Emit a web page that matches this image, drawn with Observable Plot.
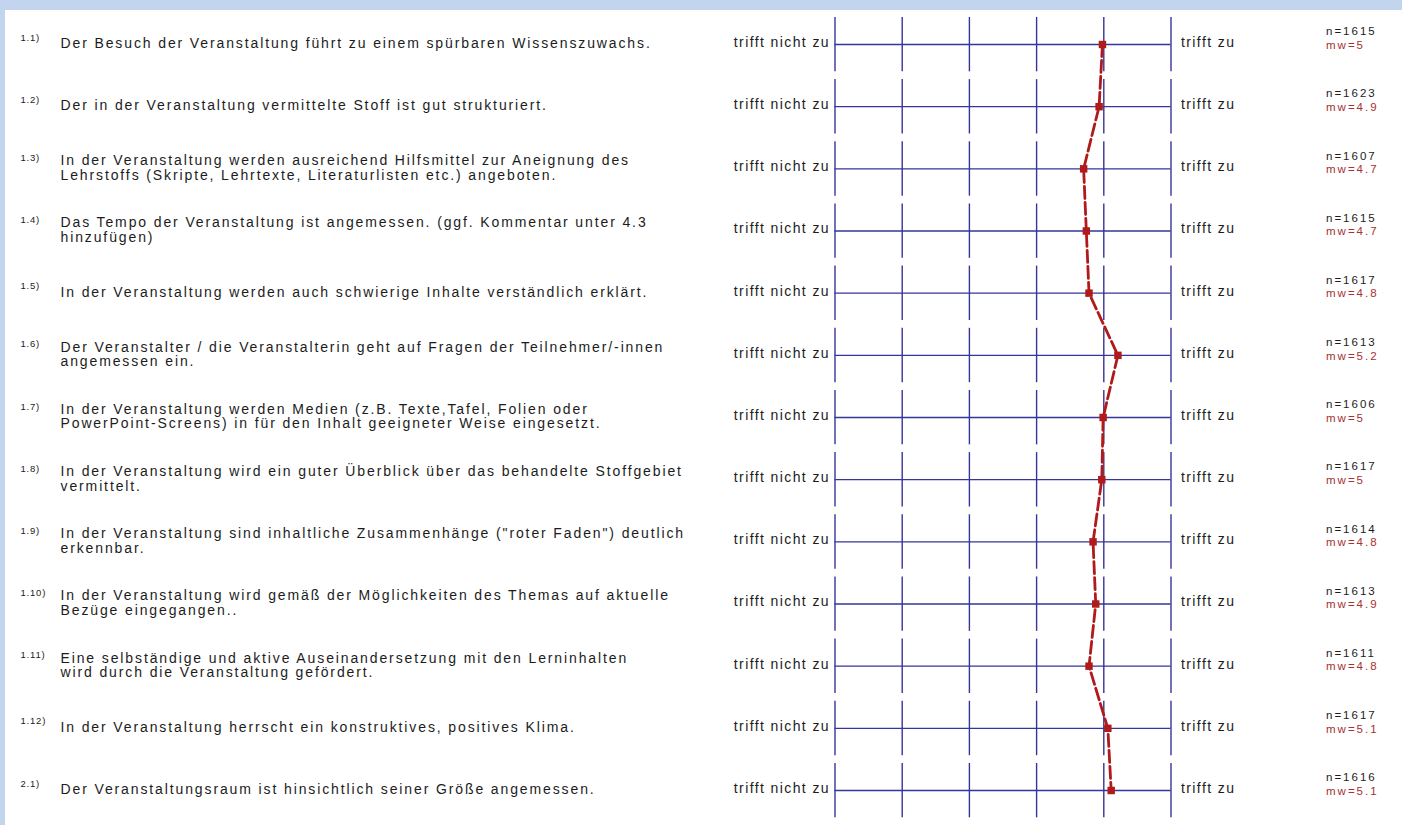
<!DOCTYPE html>
<html>
<head>
<meta charset="utf-8">
<script src="https://cdn.jsdelivr.net/npm/d3@7"></script>
<script src="https://cdn.jsdelivr.net/npm/@observablehq/plot@0.6"></script>
<style>
  html, body { margin: 0; padding: 0; }
  body { background: #c3d4ee; width: 1402px; height: 825px; overflow: hidden; }
  #panel { position: absolute; left: 5px; top: 10px; width: 1397px; height: 815px; background: #ffffff; }
  #panel svg { font-family: "Liberation Sans", Arial, sans-serif; overflow: visible; }
</style>
</head>
<body>
<div id="panel"></div>
<script>
const items = ["1.1)", "1.2)", "1.3)", "1.4)", "1.5)", "1.6)", "1.7)", "1.8)", "1.9)", "1.10)", "1.11)", "1.12)", "2.1)"];
const statements = [
  "Der Besuch der Veranstaltung führt zu einem spürbaren Wissenszuwachs.",
  "Der in der Veranstaltung vermittelte Stoff ist gut strukturiert.",
  "In der Veranstaltung werden ausreichend Hilfsmittel zur Aneignung des\nLehrstoffs (Skripte, Lehrtexte, Literaturlisten etc.) angeboten.",
  "Das Tempo der Veranstaltung ist angemessen. (ggf. Kommentar unter 4.3\nhinzufügen)",
  "In der Veranstaltung werden auch schwierige Inhalte verständlich erklärt.",
  "Der Veranstalter / die Veranstalterin geht auf Fragen der Teilnehmer/-innen\nangemessen ein.",
  "In der Veranstaltung werden Medien (z.B. Texte,Tafel, Folien oder\nPowerPoint-Screens) in für den Inhalt geeigneter Weise eingesetzt.",
  "In der Veranstaltung wird ein guter Überblick über das behandelte Stoffgebiet\nvermittelt.",
  "In der Veranstaltung sind inhaltliche Zusammenhänge (\"roter Faden\") deutlich\nerkennbar.",
  "In der Veranstaltung wird gemäß der Möglichkeiten des Themas auf aktuelle\nBezüge eingegangen..",
  "Eine selbständige und aktive Auseinandersetzung mit den Lerninhalten\nwird durch die Veranstaltung gefördert.",
  "In der Veranstaltung herrscht ein konstruktives, positives Klima.",
  "Der Veranstaltungsraum ist hinsichtlich seiner Größe angemessen."
];
const nValues = [1615, 1623, 1607, 1615, 1617, 1613, 1606, 1617, 1614, 1613, 1611, 1617, 1616];
const mwLabels = ["5", "4.9", "4.7", "4.7", "4.8", "5.2", "5", "5", "4.8", "4.9", "4.8", "5.1", "5.1"];
const means = [4.98, 4.93, 4.70, 4.74, 4.78, 5.21, 4.99, 4.97, 4.84, 4.88, 4.78, 5.06, 5.11];
const scaleValues = [1, 2, 3, 4, 5, 6];
const leftLabel = "trifft nicht zu";
const rightLabel = "trifft zu";

const rows = items.map((id, i) => ({
  i, id,
  text: statements[i],
  lines: statements[i].split("\n").length,
  n: "n=" + nValues[i],
  mw: "mw=" + mwLabels[i],
  mean: means[i]
}));
const grid = rows.flatMap(r => scaleValues.map(v => ({i: r.i, v})));

const navy = "#35359a";
const red = "#b01a1a";
const ink = "#1c1c1c";

const chart = Plot.plot({
  width: 1397,
  height: 815,
  margin: 0,
  x: {type: "linear", domain: [1, 6], range: [829.5, 1165.5], axis: null},
  y: {type: "linear", domain: [0, 12], range: [34, 780], axis: null},
  marks: [
    Plot.ruleX(grid, {x: "v", y1: d => d.i - 0.435, y2: d => d.i + 0.44, stroke: navy, strokeWidth: 1.4}),
    Plot.ruleY(rows, {y: "i", x1: () => 1, x2: () => 6, stroke: navy, strokeWidth: 1.4}),
    Plot.line(rows, {x: "mean", y: "i", stroke: red, strokeWidth: 2.8, strokeDasharray: "12,4", curve: "linear"}),
    Plot.dot(rows, {x: "mean", y: "i", symbol: "square", r: 4.2, fill: red, stroke: "none"}),
    Plot.text(rows, {y: "i", text: "text", frameAnchor: "left", dx: 55, dy: -1, textAnchor: "start",
      lineAnchor: "middle", lineHeight: 1.04, fontSize: 14, fill: ink}),
    Plot.text(rows.filter(r => r.lines === 1), {y: "i", text: "id", frameAnchor: "left", dx: 15, dy: -7,
      textAnchor: "start", lineAnchor: "middle", fontSize: 9.5, fill: ink}),
    Plot.text(rows.filter(r => r.lines > 1), {y: "i", text: "id", frameAnchor: "left", dx: 15, dy: -11,
      textAnchor: "start", lineAnchor: "middle", fontSize: 9.5, fill: ink}),
    Plot.text(rows, {x: () => 1, y: "i", text: () => leftLabel, textAnchor: "end", dx: -5, dy: -2,
      lineAnchor: "middle", fontSize: 14, fill: ink}),
    Plot.text(rows, {x: () => 6, y: "i", text: () => rightLabel, textAnchor: "start", dx: 10, dy: -2,
      lineAnchor: "middle", fontSize: 14, fill: ink}),
    Plot.text(rows, {x: () => 6, y: "i", text: "n", textAnchor: "start", dx: 155, dy: -13,
      lineAnchor: "middle", fontSize: 11.5, fill: ink}),
    Plot.text(rows, {x: () => 6, y: "i", text: "mw", textAnchor: "start", dx: 155, dy: 0.5,
      lineAnchor: "middle", fontSize: 11.5, fill: "#a83030"})
  ]
});
// letter spacing per text mark group (in mark order)
const spacing = {4: "1.88px", 5: "0.8px", 6: "0.8px", 7: "1.4px", 8: "1.4px", 9: "2px", 10: "2px"};
const groups = Array.from(chart.children).filter(el => el.tagName.toLowerCase() === "g");
groups.forEach((g, k) => { if (spacing[k]) g.style.letterSpacing = spacing[k]; });
document.getElementById("panel").appendChild(chart);
</script>
</body>
</html>
